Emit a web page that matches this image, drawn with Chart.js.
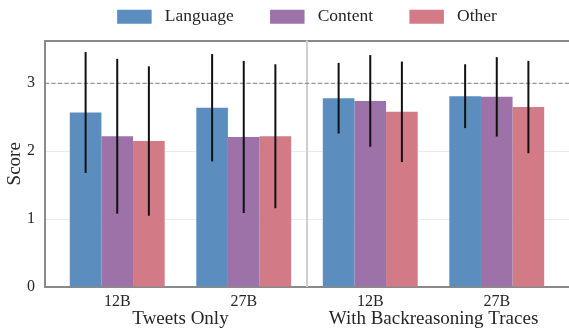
<!DOCTYPE html>
<html>
<head>
<meta charset="utf-8">
<script src="https://cdn.jsdelivr.net/npm/chart.js@4.4.1/dist/chart.umd.min.js"></script>
<style>
  body { margin: 0; background: #fff; }
</style>
</head>
<body>
<canvas id="scoreChart" width="569" height="331"></canvas>
<script>
// data
const modelLabels = ["12B", "27B", "12B", "27B"];
const groupLabels = ["Tweets Only", "With Backreasoning Traces"];
const groupCenters = [0.5, 2.5];
const seriesNames = ["Language", "Content", "Other"];
const languageScores = [2.57, 2.64, 2.78, 2.81];
const languageErr = [0.89, 0.79, 0.52, 0.47];
const contentScores = [2.22, 2.21, 2.74, 2.80];
const contentErr = [1.14, 1.12, 0.675, 0.585];
const otherScores = [2.15, 2.22, 2.58, 2.65];
const otherErr = [1.10, 1.06, 0.74, 0.68];
const yTicks = [0, 1, 2, 3];
const referenceScore = 3;
const separatorAt = 1.5;

const seriesValues = [languageScores, contentScores, otherScores];
const seriesErrors = [languageErr, contentErr, otherErr];
const colors = ["#5b8dbf", "#9c72a9", "#d37a87"];
const xMin = -0.571, xMax = 3.571;
const yMax = 3.63;

const axisGrey = "#8a8a8a";
const textColor = "#262626";
Chart.defaults.font.family = "'Liberation Serif', 'Times New Roman', serif";
Chart.defaults.color = textColor;

// separator, dashed reference line and the error bars
const overlay = {
  id: "overlay",
  beforeDatasetsDraw(chart) {
    const { ctx, chartArea: area, scales } = chart;
    const sx = scales.x.getPixelForValue(separatorAt);
    const ry = scales.y.getPixelForValue(referenceScore);
    ctx.save();
    ctx.strokeStyle = "#cfcfcf";
    ctx.lineWidth = 2;
    ctx.beginPath();
    ctx.moveTo(sx, area.top);
    ctx.lineTo(sx, area.bottom);
    ctx.stroke();
    ctx.strokeStyle = "#7f7f7f";
    ctx.lineWidth = 1;
    ctx.setLineDash([4, 2.5]);
    ctx.beginPath();
    ctx.moveTo(area.left, ry);
    ctx.lineTo(area.right, ry);
    ctx.stroke();
    ctx.restore();
  },
  afterDatasetsDraw(chart) {
    const { ctx, scales: { y } } = chart;
    ctx.save();
    ctx.strokeStyle = "#111";
    ctx.lineWidth = 2;
    chart.data.datasets.forEach((ds, i) => {
      chart.getDatasetMeta(i).data.forEach((bar, j) => {
        const v = seriesValues[i][j];
        const e = seriesErrors[i][j];
        ctx.beginPath();
        ctx.moveTo(bar.x, y.getPixelForValue(v + e));
        ctx.lineTo(bar.x, y.getPixelForValue(v - e));
        ctx.stroke();
      });
    });
    ctx.restore();
  },
};

const hiddenGrid = { display: true, color: "rgba(0,0,0,0)", drawTicks: false };

new Chart(document.getElementById("scoreChart"), {
  type: "bar",
  data: {
    datasets: seriesNames.map((name, i) => ({
      label: name,
      data: seriesValues[i].map((v, j) => ({ x: j, y: v })),
      backgroundColor: colors[i],
      borderWidth: 0,
      categoryPercentage: 0.75,
      barPercentage: 1.0,
    })),
  },
  options: {
    responsive: false,
    animation: false,
    devicePixelRatio: 1,
    layout: { padding: { top: -28.3, right: -4.5, left: 0, bottom: 0 } },
    plugins: {
      tooltip: { enabled: false },
      legend: {
        position: "top",
        fullSize: false, // centre over the plot, not the canvas
        labels: {
          boxWidth: 34.5,
          boxHeight: 14,
          padding: 36.3,
          color: textColor,
          font: { size: 17.5 },
          generateLabels(chart) {
            const items = Chart.defaults.plugins.legend.labels.generateLabels(chart);
            // a leading space widens the gap between box and text
            items.forEach((it) => { it.text = " " + it.text; });
            return items;
          },
        },
      },
    },
    scales: {
      x: {
        type: "linear",
        position: "bottom",
        min: xMin,
        max: xMax,
        offset: false,
        grid: hiddenGrid,
        border: { color: axisGrey, width: 2 },
        afterBuildTicks: (s) => { s.ticks = modelLabels.map((_, i) => ({ value: i })); },
        afterFit: (s) => { s.height = 20; },
        ticks: {
          autoSkip: false,
          maxRotation: 0,
          padding: 5,
          color: textColor,
          font: { size: 16 },
          callback: (v, i) => modelLabels[i],
        },
      },
      groups: {
        type: "linear",
        position: "bottom",
        min: xMin,
        max: xMax,
        offset: false,
        grid: { display: false, drawTicks: false },
        border: { display: false },
        afterBuildTicks: (s) => { s.ticks = groupCenters.map((v) => ({ value: v })); },
        afterFit: (s) => { s.height = 24; },
        ticks: {
          autoSkip: false,
          maxRotation: 0,
          padding: 0.5,
          color: textColor,
          font: { size: 19 },
          callback: (v, i) => groupLabels[i],
        },
      },
      frameTop: {
        type: "linear",
        position: "top",
        min: xMin,
        max: xMax,
        grid: hiddenGrid,
        border: { color: axisGrey, width: 2 },
        ticks: { display: false },
        afterFit: (s) => { s.height = 5; },
      },
      y: {
        min: 0,
        max: yMax,
        grid: { color: "#ebebeb", lineWidth: 1, drawTicks: false },
        border: { color: axisGrey, width: 2 },
        afterBuildTicks: (s) => { s.ticks = yTicks.map((v) => ({ value: v })); },
        afterFit: (s) => { s.width = 45; },
        ticks: { padding: 10, color: textColor, font: { size: 16 } },
        title: {
          display: true,
          text: "Score",
          color: textColor,
          font: { size: 19 },
          padding: { top: 4, bottom: 0 },
        },
      },
    },
  },
  plugins: [overlay],
});
</script>
</body>
</html>
